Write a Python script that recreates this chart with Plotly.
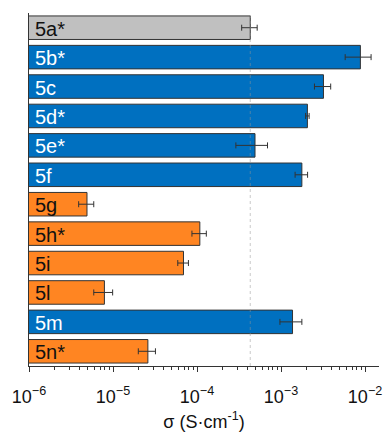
import plotly.graph_objects as go

# Ionic conductivity of each sample (S/cm) with its standard deviation
samples = ["5a*", "5b*", "5c", "5d*", "5e*", "5f", "5g", "5h*", "5i", "5l", "5m", "5n*"]
sigma = [4.3e-4, 8.8e-3, 3.2e-3, 2.06e-3, 4.9e-4, 1.77e-3, 4.9e-6, 1.08e-4, 6.9e-5, 7.9e-6, 1.37e-3, 2.6e-5]
sigma_err = [0.9e-4, 3.0e-3, 0.7e-3, 0.1e-3, 2.0e-4, 0.3e-3, 1.0e-6, 2.1e-5, 1.0e-5, 2.0e-6, 0.4e-3, 0.6e-5]
family = ["ref", "b", "b", "b", "b", "b", "o", "o", "o", "o", "b", "o"]

tick_vals = [1e-6, 1e-5, 1e-4, 1e-3, 1e-2]
tick_text = ["10<sup>−6</sup>", "10<sup>−5</sup>", "10<sup>−4</sup>", "10<sup>−3</sup>", "10<sup>−2</sup>"]

fill = {"ref": "#C0C0C0", "b": "#0070C0", "o": "#FF8522"}
label_col = {"ref": "#111111", "b": "#FFFFFF", "o": "#111111"}

FONT = "Liberation Sans, Arial, sans-serif"

fig = go.Figure()
fig.add_trace(go.Bar(
    x=sigma,
    y=samples,
    orientation="h",
    width=0.8,
    marker=dict(color=[fill[f] for f in family], line=dict(color="#333333", width=1)),
    error_x=dict(type="data", array=sigma_err, color="#333333", thickness=1, width=3),
    hoverinfo="x+y",
))

# Sample names written inside the left end of each bar
for name, f in zip(samples, family):
    fig.add_annotation(
        x=0, xref="paper", y=name, yref="y",
        text=name, showarrow=False, xanchor="left", xshift=4, yshift=-1,
        font=dict(family=FONT, size=20, color=label_col[f]),
    )

# Reference level of the first sample
fig.add_shape(
    type="line", xref="x", yref="paper",
    x0=sigma[0], x1=sigma[0], y0=0, y1=1,
    line=dict(color="rgba(150,150,150,0.5)", width=1, dash="dot"),
    layer="above",
)

minor_vals = [m * 10.0 ** e for e in range(-6, -1) for m in range(2, 10)]
minor_vals = [v for v in minor_vals if v < 1.45e-2]

fig.update_layout(
    width=388, height=434,
    margin=dict(l=29, r=6, t=13, b=59),
    paper_bgcolor="white", plot_bgcolor="white",
    showlegend=False,
    font=dict(family=FONT, size=18, color="#111111"),
    xaxis=dict(
        type="log",
        range=[-6, -1.834],
        tickmode="array", tickvals=tick_vals, ticktext=tick_text,
        ticks="outside", ticklen=5, tickcolor="#333333",
        minor=dict(tickmode="array", tickvals=minor_vals, ticks="outside", ticklen=3, tickcolor="#333333", showgrid=False),
        showline=True, linecolor="#333333", linewidth=1,
        showgrid=False, zeroline=False,
        ticklabelstandoff=9,
        tickfont=dict(family=FONT, size=18, color="#111111"),
        title=dict(text="σ (S·cm<sup>-1</sup>)", font=dict(family=FONT, size=18, color="#111111"), standoff=9),
    ),
    yaxis=dict(
        type="category",
        categoryorder="array", categoryarray=samples,
        range=[11.5, -0.5],
        showticklabels=False, ticks="",
        showline=True, linecolor="#333333", linewidth=1,
        showgrid=False, zeroline=False,
    ),
)

fig.write_html("out.html")
